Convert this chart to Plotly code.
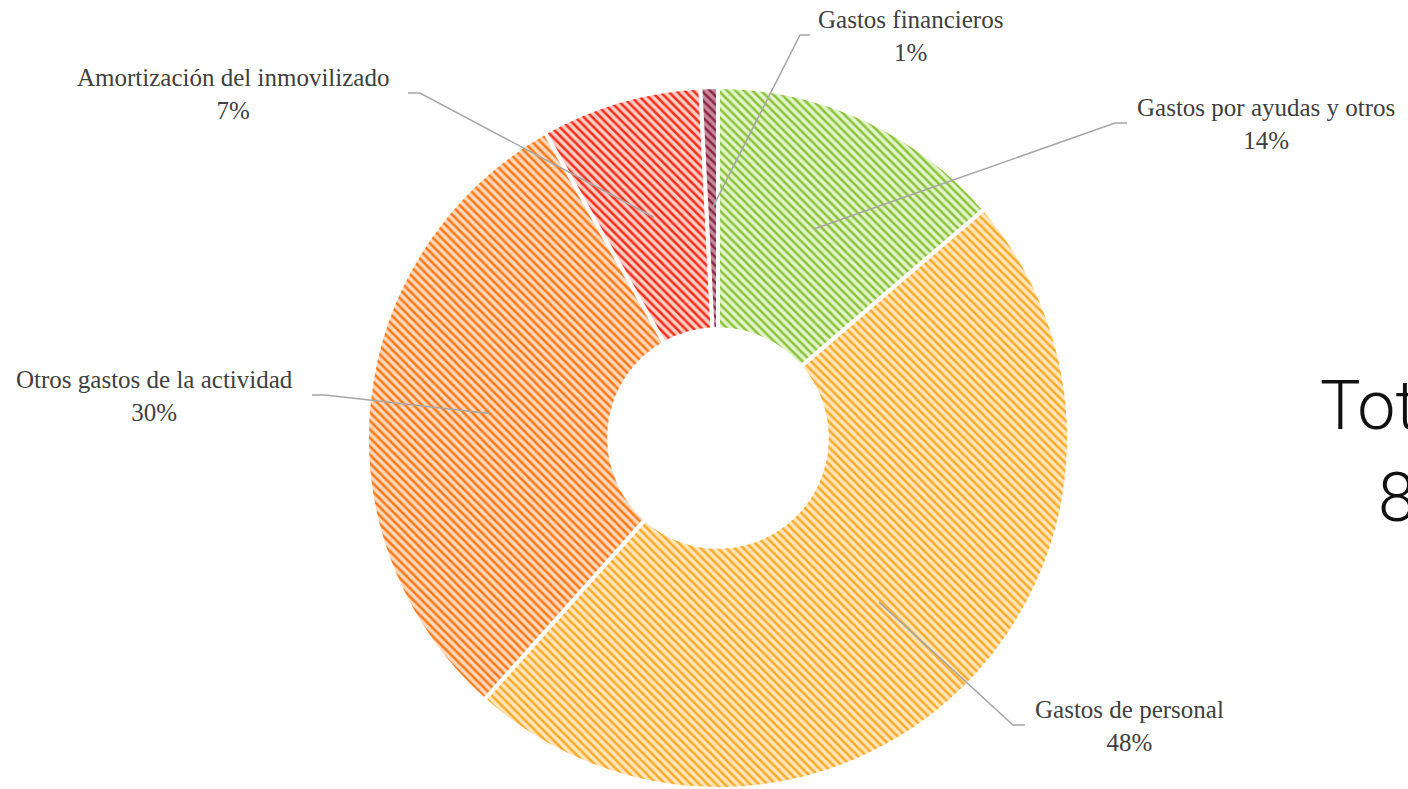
import math
import plotly.graph_objects as go

# ---- data ----
categories = ["Gastos por ayudas y otros", "Gastos de personal",
              "Otros gastos de la actividad", "Amortización del inmovilizado",
              "Gastos financieros"]
values = [13.7, 47.9, 30.2, 7.4, 0.8]
fg_colors = ["#8cc43c", "#fbab2c", "#ff7a1a", "#f6301c", "#8e2848"]
bg_colors = ["#e3f3cb", "#ffe6bd", "#ffd9bd", "#ffcfc8", "#c88a9a"]
total_title = "Total"
total_value = "8"

W, H = 1408, 789
CX, CY, R = 718, 438, 351   # pixel geometry of the pie
HOLE = 0.31

def px(x):
    return x / W

def py(y):
    return 1 - y / H

fig = go.Figure()
fig.add_trace(go.Pie(
    labels=categories, values=values, sort=False, direction="clockwise",
    rotation=0, hole=HOLE, textinfo="none", hoverinfo="label+percent",
    showlegend=False,
    domain=dict(x=[px(CX - R), px(CX + R)], y=[py(CY + R), py(CY - R)]),
    marker=dict(colors=bg_colors, line=dict(color="white", width=4),
                pattern=dict(shape="\\", fgcolor=fg_colors, bgcolor=bg_colors,
                             fillmode="replace", size=6, solidity=0.42)),
))

# label layout (pixel positions of label left edge / text centre, bend point, side)
label_layout = [
    dict(tx=1135, ty=124, bend=(1115, 123), hx=1127),
    dict(tx=1033, ty=726, bend=(1013, 725), hx=1025),
    dict(tx=14, ty=396, bend=(325, 395), hx=312),
    dict(tx=75, ty=94, bend=(420, 93), hx=408),
    dict(tx=816, ty=36, bend=(800, 35), hx=810),
]

total = sum(values)
cum = 0.0
annotations = []
shapes = []
for name, v, lay in zip(categories, values, label_layout):
    mid = (cum + v / 2) / total * 2 * math.pi
    cum += v
    rmid = (R * HOLE + R) / 2
    ex = CX + rmid * math.sin(mid)
    ey = CY - rmid * math.cos(mid)
    bx, by = lay["bend"]
    path = (f"M {px(ex)},{py(ey)} L {px(bx)},{py(by)} L {px(lay['hx'])},{py(by)}")
    shapes.append(dict(type="path", xref="paper", yref="paper", path=path,
                       line=dict(color="#a6a6a6", width=1.5)))
    pct = round(v / total * 100)
    annotations.append(dict(
        xref="paper", yref="paper", x=px(lay["tx"]), y=py(lay["ty"]),
        xanchor="left", yanchor="middle", align="center", showarrow=False,
        text=f"{name}<br>{pct}%",
        font=dict(family="Liberation Serif", size=25, color="#404040"),
    ))

annotations.append(dict(xref="paper", yref="paper", x=px(1318), y=py(406),
                        xanchor="left", yanchor="middle", showarrow=False,
                        text=total_title,
                        font=dict(family="Roboto", size=68, color="#111111", weight=300)))
annotations.append(dict(xref="paper", yref="paper", x=px(1376), y=py(498),
                        xanchor="left", yanchor="middle", showarrow=False,
                        text=total_value,
                        font=dict(family="Roboto", size=68, color="#111111", weight=300)))

fig.update_layout(width=W, height=H, margin=dict(l=0, r=0, t=0, b=0),
                  paper_bgcolor="white", plot_bgcolor="white",
                  annotations=annotations, shapes=shapes)

fig.write_html("out.html", config={"displayModeBar": False},
               post_script="document.body.style.margin='0';document.body.style.overflow='hidden';")
